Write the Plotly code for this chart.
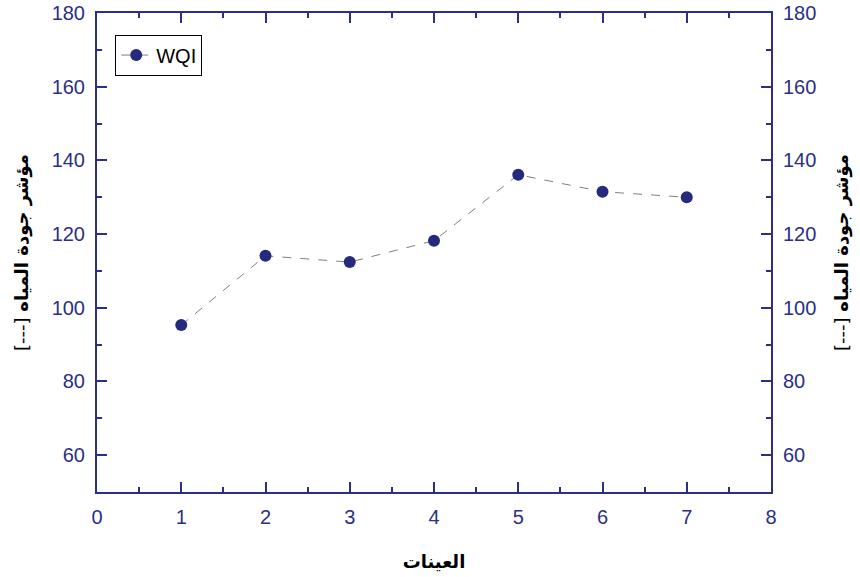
import plotly.graph_objects as go

# Sample numbers and their water quality index
samples = [1, 2, 3, 4, 5, 6, 7]
wqi = [95.3, 114.1, 112.4, 118.2, 136.1, 131.5, 130.0]

x_ticks = [0, 1, 2, 3, 4, 5, 6, 7, 8]
y_ticks = [60, 80, 100, 120, 140, 160, 180]

navy = "#2b2f86"
y_title = "[---] <b>مؤشر جودة المياه</b>"
x_title = "<b>العينات</b>"

fig = go.Figure()
fig.add_trace(go.Scatter(
    x=samples, y=wqi, name="WQI", mode="lines+markers",
    line=dict(color="#7f7f7f", width=1, dash="dash"),
    marker=dict(color="#262a7c", size=12, symbol="circle"),
))
# invisible trace to carry the right-hand axis
fig.add_trace(go.Scatter(x=samples, y=wqi, yaxis="y2", mode="markers",
                         marker=dict(opacity=0), showlegend=False, hoverinfo="skip"))

tick_font = dict(family="Liberation Sans, Arial, sans-serif", size=20, color=navy)
title_font = dict(family="DejaVu Sans, sans-serif", size=18, color="black")
minor_y = dict(ticks="inside", ticklen=5, dtick=10, tick0=50, tickcolor=navy, tickwidth=2)

common = dict(showline=True, linecolor=navy, linewidth=2, ticks="inside", ticklen=10,
              tickwidth=2, tickcolor=navy, showgrid=False, zeroline=False,
              tickfont=tick_font, automargin=False, ticklabelstandoff=6)

fig.update_layout(
    width=860, height=577,
    margin=dict(l=97, r=89, t=13, b=85),
    plot_bgcolor="white", paper_bgcolor="white",
    showlegend=True,
    legend=dict(x=0.027, y=0.955, xanchor="left", yanchor="top",
                bordercolor="black", borderwidth=1, bgcolor="white",
                font=dict(family="Liberation Sans, Arial, sans-serif", size=20, color="black"),
                itemwidth=30, tracegroupgap=0),
    xaxis=dict(range=[0, 8], tickvals=x_ticks, mirror="ticks",
               minor=dict(ticks="inside", ticklen=5, dtick=0.5, tickcolor=navy, tickwidth=2),
               title=dict(text=x_title, standoff=28,
                          font=dict(family="DejaVu Sans, sans-serif", size=18, color="black")),
               **common),
    yaxis=dict(range=[50, 180], tickvals=y_ticks, mirror="ticks", minor=minor_y,
               title=dict(text=y_title, standoff=18, font=title_font),
               **common),
    yaxis2=dict(range=[50, 180], tickvals=y_ticks, overlaying="y", side="right", minor=minor_y,
                title=dict(text=y_title, standoff=20, font=title_font),
                **common),
)

fig.write_html("out.html")
